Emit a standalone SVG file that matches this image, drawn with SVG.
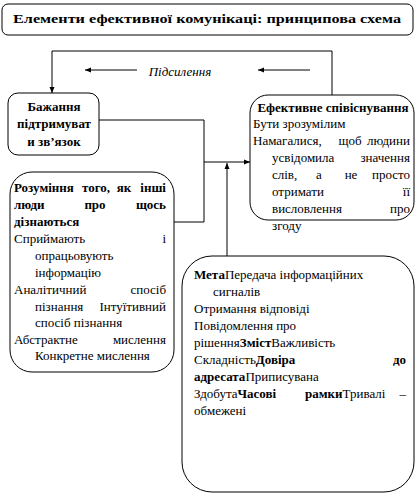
<svg xmlns="http://www.w3.org/2000/svg" width="417" height="496" viewBox="0 0 417 496" font-family="'Liberation Serif', 'DejaVu Serif', serif">
<style>
.box{fill:#fff;stroke:#000;stroke-width:1}
.ln{fill:none;stroke:#000;stroke-width:1}
text{font-family:'Liberation Serif','DejaVu Serif',serif;fill:#000;font-size:13px}
.b{font-weight:bold}
.e{text-anchor:end}
.m{text-anchor:middle}
</style>
<defs>
<marker id="ah" markerUnits="userSpaceOnUse" markerWidth="6" markerHeight="6" viewBox="0 0 6 6" refX="6" refY="3" orient="auto">
<path d="M0,0.5 L6,3 L0,5.5 Z" fill="#000"/>
</marker>
</defs>
<rect width="417" height="496" fill="#fff"/>
<g id="title">
<rect class="box" x="2" y="4" width="411" height="31" rx="6"/>
<text class="b m" x="207" y="23" font-size="14" textLength="388" lengthAdjust="spacingAndGlyphs">Елементи ефективної комунікаці: принципова схема</text>
</g>
<g id="connectors">
<polyline class="ln" points="332,95 332,51 52,51 52,93" marker-end="url(#ah)"/>
<line class="ln" x1="137" y1="70" x2="85" y2="70" marker-end="url(#ah)"/>
<line class="ln" x1="310" y1="70" x2="258" y2="70" marker-end="url(#ah)"/>
<polyline class="ln" points="99,120 204,120 204,222 174,222"/>
<line class="ln" x1="204" y1="162" x2="250" y2="162" marker-end="url(#ah)"/>
<line class="ln" x1="227" y1="256" x2="227" y2="163" marker-end="url(#ah)"/>
<text x="180" y="76" class="m" font-size="14" font-style="italic">Підсилення</text>
</g>
<g id="bazhannya">
<rect class="box" x="8" y="93" width="91" height="62" rx="10"/>
<text class="b m" x="54" y="111" font-size="14.5">Бажання</text>
<text class="b m" x="54" y="128" font-size="14.5">підтримуват</text>
<text class="b m" x="54" y="146" font-size="14.5">и зв’язок</text>
</g>
<g id="efektyvne">
<rect class="box" x="250" y="95" width="164" height="125" rx="18"/>
<text class="b m" x="333" y="112" font-size="11.5">Ефективне співіснування</text>
<text x="253" y="128">Бути зрозумілим</text>
<text x="253" y="145">Намагалися,</text><text class="m" x="350" y="145">щоб</text><text class="e" x="410" y="145">людини</text>
<text x="272" y="162">усвідомила</text><text class="e" x="410" y="162">значення</text>
<text x="272" y="179">слів,</text><text class="m" x="319" y="179">а</text><text class="m" x="351" y="179">не</text><text class="e" x="410" y="179">просто</text>
<text x="272" y="196">отримати</text><text class="e" x="410" y="196">її</text>
<text x="272" y="213">висловлення</text><text class="e" x="410" y="213">про</text>
<text x="272" y="230">згоду</text>
</g>
<g id="rozuminnya">
<rect class="box" x="10" y="172" width="164" height="200" rx="22"/>
<text class="b" x="14" y="192">Розуміння</text><text class="b m" x="96" y="192">того,</text><text class="b m" x="124" y="192">як</text><text class="b e" x="166" y="192">інші</text>
<text class="b" x="14" y="209">люди</text><text class="b m" x="95" y="209">про</text><text class="b e" x="166" y="209">щось</text>
<text class="b" x="14" y="226">дізнаються</text>
<text x="14" y="243">Сприймають</text><text class="e" x="166" y="243">і</text>
<text x="35" y="260">опрацьовують</text>
<text x="35" y="277">інформацію</text>
<text x="14" y="294">Аналітичний</text><text class="e" x="166" y="294">спосіб</text>
<text x="35" y="311">пізнання</text><text class="e" x="166" y="311">Інтуїтивний</text>
<text x="35" y="327">спосіб пізнання</text>
<text x="14" y="344">Абстрактне</text><text class="e" x="166" y="344">мислення</text>
<text x="35" y="360">Конкретне мислення</text>
</g>
<g id="meta">
<rect class="box" x="182" y="256" width="232" height="236" rx="30"/>
<text x="194" y="279"><tspan class="b">Мета</tspan>Передача інформаційних</text>
<text x="213" y="296">сигналів</text>
<text x="194" y="313">Отримання відповіді</text>
<text x="194" y="330">Повідомлення про</text>
<text x="194" y="347">рішення<tspan class="b">Зміст</tspan>Важливість</text>
<text x="194" y="364">Складність<tspan class="b">Довіра</tspan></text><text class="b e" x="406" y="364">до</text>
<text x="194" y="381"><tspan class="b">адресата</tspan>Приписувана</text>
<text x="194" y="398">Здобута<tspan class="b">Часові</tspan></text><text x="305" y="398"><tspan class="b">рамки</tspan>Тривалі</text><text class="e" x="406" y="398">–</text>
<text x="194" y="415">обмежені</text>
</g>
</svg>
